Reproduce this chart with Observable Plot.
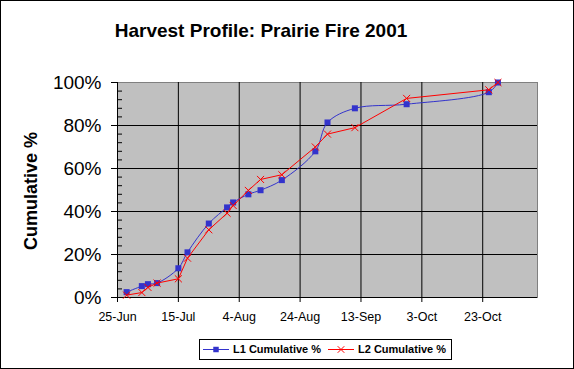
<!DOCTYPE html>
<html>
<head>
<meta charset="utf-8">
<script src="https://cdn.jsdelivr.net/npm/d3@7"></script>
<script src="https://cdn.jsdelivr.net/npm/@observablehq/plot@0.6"></script>
<style>
  body { margin: 0; background: white; }
  #wrap { position: relative; width: 574px; height: 369px; overflow: hidden; font-family: Arial, "Liberation Sans", sans-serif; }
  #border { position: absolute; left: 0; top: 0; width: 574px; height: 369px; box-sizing: border-box; border: 1px solid black; pointer-events: none; }
  #chart { position: absolute; left: 0; top: 0; }
  #title { position: absolute; left: 61px; width: 400px; top: 21px; text-align: center; font-weight: bold; font-size: 19px; line-height: 19px; white-space: nowrap; }
  #ylabel { position: absolute; left: -69px; top: 181px; width: 200px; height: 20px; line-height: 20px; text-align: center; font-weight: bold; font-size: 18px; transform: rotate(-90deg); white-space: nowrap; }
  #legend { position: absolute; left: 199px; top: 339px; width: 253px; height: 21px; box-sizing: border-box; border: 1px solid black; background: white; }
  .lg { position: absolute; top: 0; height: 19px; line-height: 19px; font-size: 11px; font-weight: bold; white-space: nowrap; }
  .sw { position: absolute; top: 0; }
</style>
</head>
<body>
<div id="wrap">
  <div id="chart"></div>
  <div id="title"></div>
  <div id="ylabel"></div>
  <div id="legend"></div>
  <div id="border"></div>
</div>
<script>
const titleText = "Harvest Profile: Prairie Fire 2001";
const yLabelText = "Cumulative %";
const seriesNames = ["L1 Cumulative %", "L2 Cumulative %"];
const seriesColors = ["#3333cc", "#ff0000"];

const dates = ["2001-06-28","2001-07-03","2001-07-05","2001-07-08","2001-07-15","2001-07-18","2001-07-25","2001-07-31","2001-08-02","2001-08-07","2001-08-11","2001-08-18","2001-08-29","2001-09-02","2001-09-11","2001-09-28","2001-10-25","2001-10-28"];
const l1 = [2.5, 5.3, 6.2, 6.7, 13.6, 21.0, 34.4, 41.9, 44.2, 48.0, 49.9, 54.6, 68.0, 81.4, 88.0, 89.9, 95.5, 100];
const l2 = [1.1, 2.3, 4.7, 6.7, 8.7, 18.3, 31.5, 39.2, 42.8, 49.8, 54.9, 57.1, 70.0, 76.0, 79.0, 92.6, 96.6, 100];

const xTicks = ["2001-06-25","2001-07-15","2001-08-04","2001-08-24","2001-09-13","2001-10-03","2001-10-23"];
const xDomain = ["2001-06-25","2001-11-10"];
const yTicks = [0, 20, 40, 60, 80, 100];
const yMinorTicks = [4, 8, 12, 16, 24, 28, 32, 36, 44, 48, 52, 56, 64, 68, 72, 76, 84, 88, 92, 96];

const rows = dates.map((d, i) => ({date: new Date(d), l1: l1[i], l2: l2[i]}));
const xTickDates = xTicks.map(d => new Date(d));

const chart = Plot.plot({
  width: 574,
  height: 369,
  marginTop: 82,
  marginBottom: 72,
  marginLeft: 117,
  marginRight: 37,
  style: {background: "transparent", fontFamily: "Arial, 'Liberation Sans', sans-serif", color: "black"},
  x: {type: "utc", domain: xDomain.map(d => new Date(d))},
  y: {domain: [yTicks[0], yTicks[yTicks.length - 1]]},
  marks: [
    Plot.frame({fill: "#c0c0c0", stroke: "#808080"}),
    Plot.gridX(xTickDates.slice(1), {stroke: "black", strokeOpacity: 1}),
    Plot.gridY(yTicks.slice(1, -1), {stroke: "black", strokeOpacity: 1}),
    Plot.axisY(yMinorTicks, {tickSize: 5, dx: 5, tickFormat: () => "", label: null, stroke: "black"}),
    Plot.ruleX([xTickDates[0]], {stroke: "black"}),
    Plot.ruleY([yTicks[0]], {stroke: "black"}),
    Plot.axisX(xTickDates, {tickSize: 5, tickPadding: 10, tickFormat: d3.utcFormat("%-d-%b"), fontSize: 12.5, label: null, stroke: "black"}),
    Plot.axisY(yTicks, {tickSize: 6, tickPadding: 10, tickFormat: d => d + "%", fontSize: 19, label: null, stroke: "black"}),
    Plot.line(rows, {x: "date", y: "l1", stroke: seriesColors[0], strokeWidth: 1, curve: "catmull-rom"}),
    Plot.dot(rows, {x: "date", y: "l1", symbol: "square", r: 3.4, fill: seriesColors[0], stroke: "none"}),
    Plot.line(rows, {x: "date", y: "l2", stroke: seriesColors[1], strokeWidth: 1}),
    Plot.dot(rows, {x: "date", y: "l2", symbol: "times", r: 3.3, stroke: seriesColors[1], strokeWidth: 1})
  ]
});
document.getElementById("chart").appendChild(chart);

document.getElementById("title").textContent = titleText;
document.getElementById("ylabel").textContent = yLabelText;

// legend
const legend = document.getElementById("legend");
const items = [
  {x: 3, tx: 33, symbol: "square"},
  {x: 128, tx: 158, symbol: "times"}
];
items.forEach((it, i) => {
  const ns = "http://www.w3.org/2000/svg";
  const svg = document.createElementNS(ns, "svg");
  svg.setAttribute("width", 27);
  svg.setAttribute("height", 19);
  svg.setAttribute("class", "sw");
  svg.style.left = it.x + "px";
  const line = document.createElementNS(ns, "line");
  line.setAttribute("x1", 0); line.setAttribute("x2", 26);
  line.setAttribute("y1", 9.5); line.setAttribute("y2", 9.5);
  line.setAttribute("stroke", seriesColors[i]);
  svg.appendChild(line);
  const p = document.createElementNS(ns, "path");
  if (it.symbol === "square") {
    p.setAttribute("d", d3.symbol(d3.symbolSquare, 30)());
    p.setAttribute("fill", seriesColors[i]);
  } else {
    p.setAttribute("d", d3.symbol(d3.symbolTimes, 30)());
    p.setAttribute("fill", "none");
    p.setAttribute("stroke", seriesColors[i]);
  }
  p.setAttribute("transform", "translate(13,9.5)");
  svg.appendChild(p);
  legend.appendChild(svg);
  const t = document.createElement("div");
  t.className = "lg";
  t.style.left = it.tx + "px";
  t.textContent = seriesNames[i];
  legend.appendChild(t);
});
</script>
</body>
</html>
